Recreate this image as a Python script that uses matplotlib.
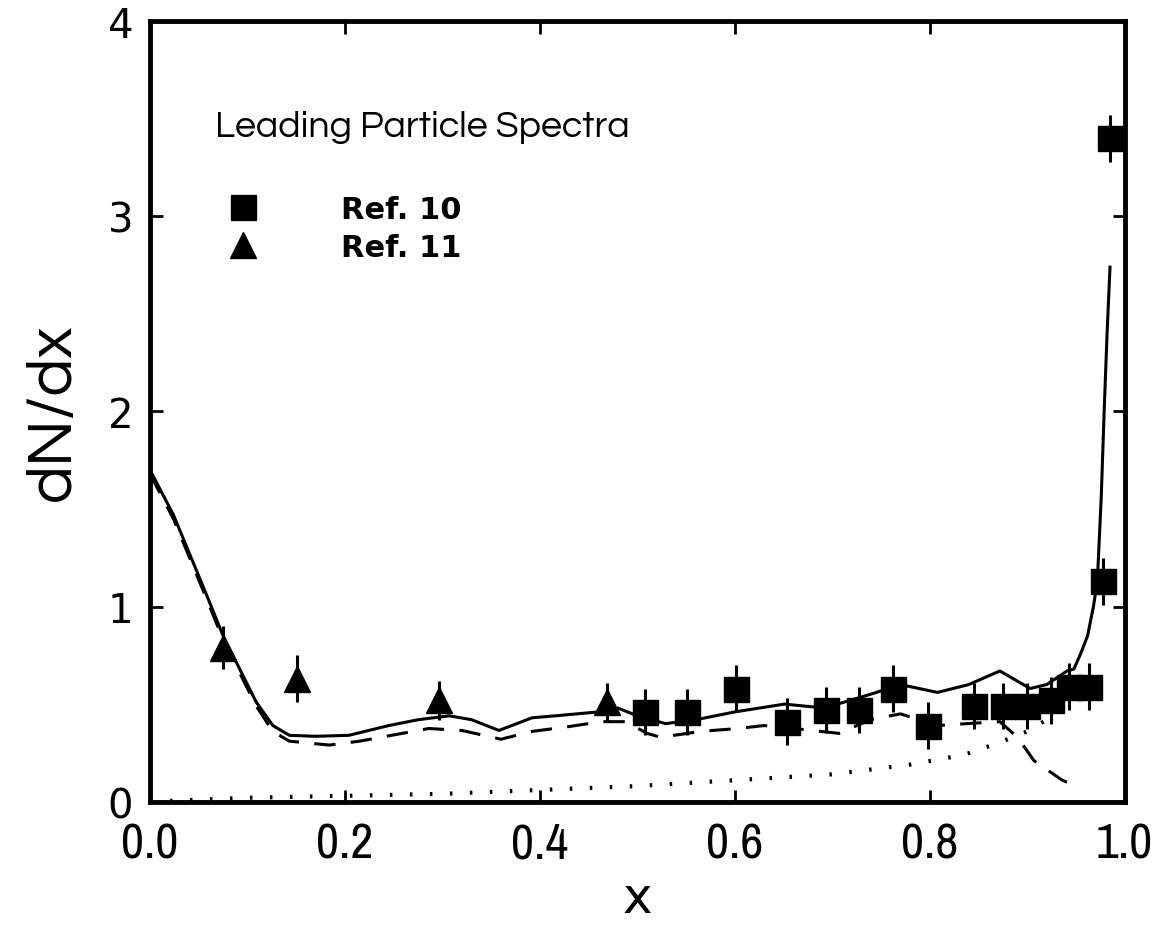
import matplotlib
matplotlib.use('Agg')
import matplotlib.pyplot as plt
import matplotlib.font_manager as fm
from matplotlib.lines import Line2D
import numpy as np

# pick fonts that exist here
names = set(f.name for f in fm.fontManager.ttflist)
def pick(cands):
    for c in cands:
        if c in names:
            return c
    return 'DejaVu Sans'

narrow = pick(['Archivo Narrow', 'IBM Plex Sans Condensed', 'Liberation Sans Narrow'])
geo = pick(['Questrial', 'Didact Gothic', 'Poppins', 'Jost', 'Lato'])
plt.rcParams['font.family'] = ['DejaVu Sans']

# =============================================================
# data
# =============================================================
# Ref. 10 (squares)
x_ref10 = [0.508, 0.551, 0.601, 0.654, 0.694, 0.727, 0.762, 0.798, 0.845,
           0.875, 0.900, 0.924, 0.943, 0.963, 0.978, 0.985]
y_ref10 = [0.46, 0.46, 0.58, 0.41, 0.47, 0.47, 0.58, 0.39, 0.49,
           0.49, 0.49, 0.52, 0.59, 0.59, 1.13, 3.40]
e_ref10 = [0.12, 0.12, 0.12, 0.12, 0.12, 0.12, 0.12, 0.12, 0.12,
           0.12, 0.12, 0.12, 0.12, 0.12, 0.12, 0.12]

# Ref. 11 (triangles)
x_ref11 = [0.075, 0.151, 0.297, 0.469]
y_ref11 = [0.79, 0.63, 0.52, 0.51]
e_ref11 = [0.11, 0.12, 0.10, 0.10]

# full model (solid)
x_solid = [0.0, 0.024, 0.058, 0.075, 0.092, 0.109, 0.126, 0.143, 0.17, 0.204,
           0.245, 0.275, 0.307, 0.33, 0.358, 0.392, 0.416, 0.46, 0.48, 0.50,
           0.529, 0.56, 0.60, 0.651, 0.692, 0.739, 0.77, 0.808, 0.84, 0.872,
           0.903, 0.92, 0.941, 0.948, 0.955, 0.962, 0.968, 0.972, 0.976, 0.979,
           0.982, 0.985]
y_solid = [1.70, 1.47, 1.06, 0.85, 0.68, 0.51, 0.39, 0.34, 0.335, 0.34,
           0.39, 0.42, 0.44, 0.42, 0.365, 0.43, 0.44, 0.46, 0.48, 0.44,
           0.40, 0.42, 0.46, 0.50, 0.48, 0.55, 0.60, 0.56, 0.60, 0.67,
           0.58, 0.60, 0.67, 0.68, 0.76, 0.85, 1.00, 1.13, 1.56, 2.00,
           2.40, 2.74]

# component 1 (dashed)
x_dash = [0.0, 0.024, 0.058, 0.075, 0.092, 0.109, 0.126, 0.143, 0.184, 0.215,
          0.286, 0.32, 0.36, 0.392, 0.43, 0.463, 0.488, 0.51, 0.524, 0.565,
          0.603, 0.63, 0.67, 0.707, 0.739, 0.77, 0.808, 0.838, 0.872, 0.89,
          0.907, 0.936, 0.95]
y_dash = [1.68, 1.45, 1.04, 0.83, 0.66, 0.49, 0.36, 0.31, 0.29, 0.31,
          0.375, 0.365, 0.32, 0.36, 0.385, 0.41, 0.41, 0.35, 0.33, 0.36,
          0.375, 0.39, 0.37, 0.35, 0.42, 0.45, 0.39, 0.40, 0.41, 0.33,
          0.21, 0.11, 0.08]

# component 2 (dotted)
x_dot = [0.0, 0.1, 0.2, 0.3, 0.4, 0.5, 0.6, 0.7, 0.78, 0.835, 0.87, 0.9, 0.92]
y_dot = [0.0, 0.02, 0.03, 0.04, 0.06, 0.08, 0.11, 0.14, 0.19, 0.24, 0.30, 0.36, 0.42]

# =============================================================
fig = plt.figure(figsize=(11.63, 9.29), dpi=100)
ax = fig.add_axes([0.129, 0.136, 0.838, 0.840])

ax.plot(x_solid, y_solid, '-', color='black', lw=2.2)
ax.plot(x_dash, y_dash, color='black', lw=2.2, dashes=(7, 5))
ax.plot(x_dot, y_dot, color='black', lw=3, linestyle=(0, (0.6, 4.2)))

ax.errorbar(x_ref10, y_ref10, yerr=e_ref10, fmt='s', color='black', ms=18,
            elinewidth=2.2, capsize=0)
ax.errorbar(x_ref11, y_ref11, yerr=e_ref11, fmt='^', color='black', ms=19,
            elinewidth=2.2, capsize=0)

ax.set_xlim(0, 1.0)
ax.set_ylim(0, 4)
ax.set_xticks([0.0, 0.2, 0.4, 0.6, 0.8, 1.0])
ax.set_xticklabels(['0.0', '0.2', '0.4', '0.6', '0.8', '1.0'],
                   fontsize=36, family=narrow)
ax.set_yticks([0, 1, 2, 3, 4])
ax.set_yticklabels(['0', '1', '2', '3', '4'], fontsize=29)
ax.tick_params(direction='in', length=9, width=2, top=True, right=True)
ax.tick_params(axis='x', pad=14)
ax.tick_params(axis='y', pad=12)
for s in ax.spines.values():
    s.set_linewidth(3.5)

ax.set_xlabel('x', fontsize=36, labelpad=6)
ax.set_ylabel('dN/dx', fontsize=46, labelpad=18, family=geo)

ax.text(0.067, 0.853, 'Leading Particle Spectra', transform=ax.transAxes,
        fontsize=27, va='baseline', ha='left', family=geo)

handles = [Line2D([], [], marker='s', color='black', ls='none', ms=18),
           Line2D([], [], marker='^', color='black', ls='none', ms=19)]
ax.legend(handles, ['Ref. 10', 'Ref. 11'], loc='upper left',
          bbox_to_anchor=(0.064, 0.797), frameon=False, borderpad=0,
          handlelength=1, handletextpad=2.7, labelspacing=0.3,
          prop={'size': 22, 'weight': 'bold'})

fig.savefig('out.png', dpi=100)
